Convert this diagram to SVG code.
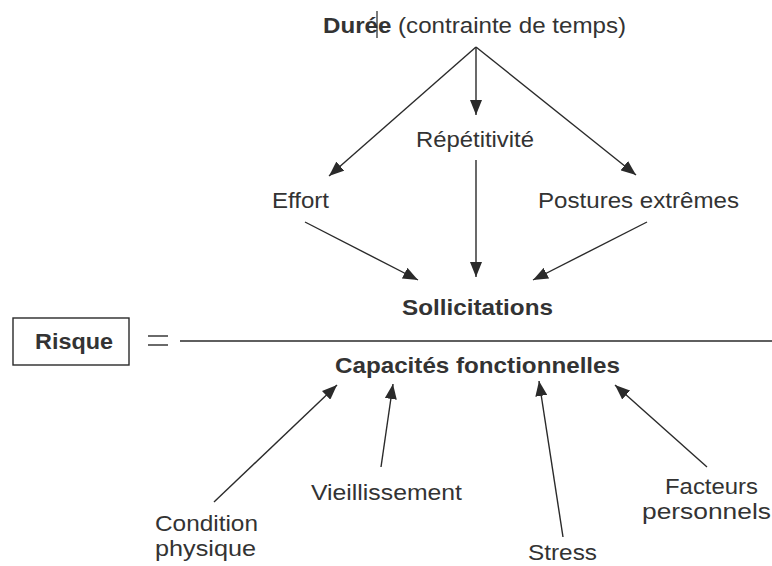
<svg xmlns="http://www.w3.org/2000/svg" width="772" height="566" viewBox="0 0 772 566">
<style>
text{font-family:"Liberation Sans",Arial,sans-serif;font-size:22.5px;fill:#333;}
.b{font-weight:bold;}
.c{text-anchor:middle;}
.ln{stroke:#2a2a2a;stroke-width:1.4;fill:none;}
.ar{stroke:#2a2a2a;stroke-width:1.4;fill:none;marker-end:url(#ah);}
</style>
<defs>
<marker id="ah" markerUnits="userSpaceOnUse" markerWidth="16" markerHeight="12" refX="15" refY="6" orient="auto">
<path d="M0,0 L15,6 L0,12 Z" fill="#2a2a2a"/>
</marker>
</defs>
<rect width="772" height="566" fill="#fff"/>
<g id="connectors">
<line class="ar" x1="476" y1="47" x2="476" y2="115"/>
<line class="ar" x1="476" y1="47" x2="329" y2="176"/>
<line class="ar" x1="476" y1="47" x2="636" y2="175"/>
<line class="ar" x1="476" y1="160" x2="476" y2="277"/>
<line class="ar" x1="305" y1="222" x2="418" y2="280"/>
<line class="ar" x1="647" y1="222" x2="533" y2="280"/>
<line class="ar" x1="214" y1="502" x2="337" y2="385"/>
<line class="ar" x1="381" y1="467" x2="393" y2="384"/>
<line class="ar" x1="563" y1="537" x2="539" y2="381"/>
<line class="ar" x1="707" y1="467" x2="615" y2="385"/>
<line class="ln" x1="180" y1="341" x2="772" y2="341"/>
</g>
<g id="duree">
<text x="323" y="33" textLength="303" lengthAdjust="spacingAndGlyphs"><tspan class="b">Durée</tspan> (contrainte de temps)</text>
<line x1="377" y1="11" x2="377" y2="38" stroke="#222" stroke-width="1.2"/>
</g>
<g id="repetitivite"><text class="c" x="475" y="147" textLength="118" lengthAdjust="spacingAndGlyphs">Répétitivité</text></g>
<g id="effort"><text x="272" y="208" textLength="57" lengthAdjust="spacingAndGlyphs">Effort</text></g>
<g id="postures"><text x="538" y="208" textLength="201" lengthAdjust="spacingAndGlyphs">Postures extrêmes</text></g>
<g id="sollicitations"><text class="b" x="402" y="315" textLength="151" lengthAdjust="spacingAndGlyphs">Sollicitations</text></g>
<g id="risque">
<rect x="13" y="318" width="116" height="47" fill="none" stroke="#2a2a2a" stroke-width="1.4"/>
<text class="b" x="35" y="349" textLength="78" lengthAdjust="spacingAndGlyphs">Risque</text>
</g>
<g id="egal">
<line class="ln" x1="148" y1="336" x2="168" y2="336"/>
<line class="ln" x1="148" y1="345" x2="168" y2="345"/>
</g>
<g id="capacites"><text class="b" x="335" y="373" textLength="285" lengthAdjust="spacingAndGlyphs">Capacités fonctionnelles</text></g>
<g id="vieillissement"><text x="311" y="500" textLength="151" lengthAdjust="spacingAndGlyphs">Vieillissement</text></g>
<g id="condition">
<text x="155" y="531" textLength="103" lengthAdjust="spacingAndGlyphs">Condition</text>
<text x="155" y="556" textLength="101" lengthAdjust="spacingAndGlyphs">physique</text>
</g>
<g id="stress"><text x="528" y="560" textLength="69" lengthAdjust="spacingAndGlyphs">Stress</text></g>
<g id="facteurs">
<text x="665" y="494" textLength="93" lengthAdjust="spacingAndGlyphs">Facteurs</text>
<text x="642" y="519" textLength="129" lengthAdjust="spacingAndGlyphs">personnels</text>
</g>
</svg>
